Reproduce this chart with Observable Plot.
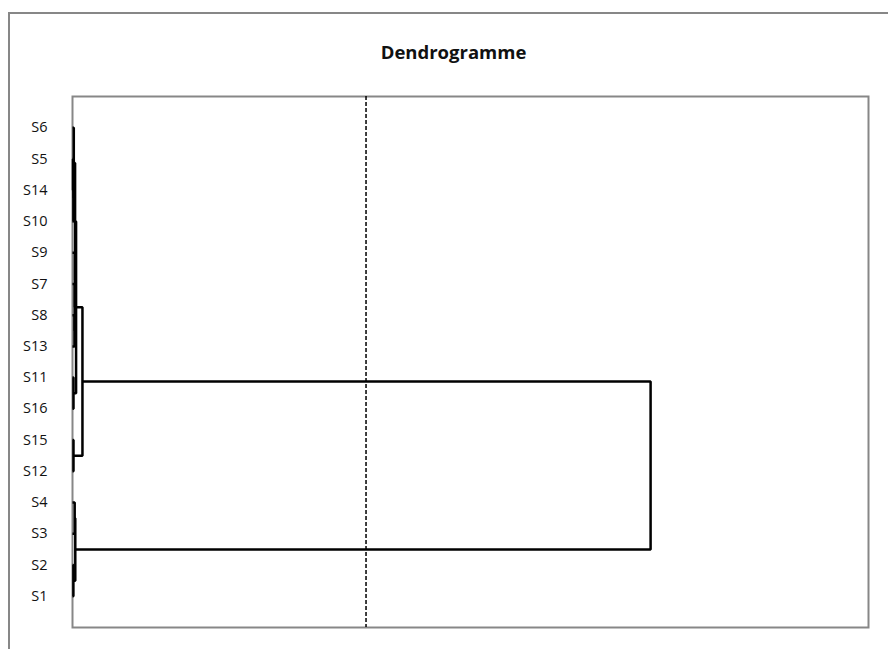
<!DOCTYPE html>
<html><head><meta charset="utf-8">
<script src="https://cdn.jsdelivr.net/npm/d3@7"></script>
<script src="https://cdn.jsdelivr.net/npm/@observablehq/plot@0.6"></script>
<style>
html,body{margin:0;padding:0;background:#fff;overflow:hidden;}
#wrap{position:relative;width:888px;height:649px;overflow:hidden;}
#outer{position:absolute;left:8px;top:12px;width:1000px;height:1000px;border:2px solid #878787;box-sizing:border-box;}
#chart{position:absolute;left:0;top:0;}
</style></head><body>
<div id="wrap"><div id="outer"></div><div id="chart"></div></div>
<script>
// Leaf order, from bottom to top of the dendrogram
const leafOrder = ["S1","S2","S3","S4","S12","S15","S16","S11","S13","S8","S7","S9","S10","S14","S5","S6"];
// Agglomeration steps: new node, child A, child B, dissimilarity level
const mergeNames  = ["n1","n2","A","B","n3","n6","n7","Y","n4","n5","X","D","C","E","root"];
const mergeLeft   = ["S1","S3","n1","S12","S16","S14","S10","n7","S13","n4","n5","X","n3","B","A"];
const mergeRight  = ["S2","S4","n2","S15","S11","S5","n6","S6","S8","S7","S9","Y","D","C","E"];
const mergeLevel  = [0.9, 2.2, 2.8, 1.0, 1.0, 0.5, 0.9, 1.3, 2.0, 2.2, 2.4, 2.6, 3.6, 10, 581];
const truncation = 295;
const xMax = 800;
const title = "Dendrogramme";

const pos = new Map(), lvl = new Map();
leafOrder.forEach((s, i) => { pos.set(s, i + 1); lvl.set(s, 0); });
const pts = [];
mergeNames.forEach((n, k) => {
  const a = mergeLeft[k], b = mergeRight[k], h = mergeLevel[k];
  const ya = pos.get(a), yb = pos.get(b);
  pos.set(n, (ya + yb) / 2); lvl.set(n, h);
  pts.push({z: n, x: lvl.get(a), y: ya});
  pts.push({z: n, x: h, y: ya});
  pts.push({z: n, x: h, y: yb});
  pts.push({z: n, x: lvl.get(b), y: yb});
});

const chart = Plot.plot({
  width: 888, height: 649,
  marginLeft: 72, marginRight: 20, marginTop: 96, marginBottom: 22,
  x: {domain: [0, xMax], axis: null, label: null},
  y: {domain: [0, leafOrder.length + 1], axis: null, label: null},
  style: {fontFamily: "'Open Sans', sans-serif", fontSize: "15px", color: "#111", background: "transparent"},
  marks: [
    Plot.frame({stroke: "#878787", strokeWidth: 2}),
    Plot.axisY(leafOrder.map((_, i) => i + 1), {
      anchor: "left", tickSize: 0, tickPadding: 25, label: null,
      tickFormat: i => leafOrder[i - 1], fontSize: 14.5, fill: "#111"
    }),
    Plot.ruleX([truncation], {stroke: "#000", strokeWidth: 1.5, strokeDasharray: "4,2"}),
    Plot.line(pts, {x: "x", y: "y", z: "z", stroke: "#000", strokeWidth: 2.5, strokeLinejoin: "miter", strokeLinecap: "butt"}),
    Plot.text([title], {frameAnchor: "top", dy: -51, dx: -17, fontSize: 18.5, fontWeight: "bold", fill: "#111"})
  ]
});
document.getElementById("chart").appendChild(chart);
</script>
</body></html>
